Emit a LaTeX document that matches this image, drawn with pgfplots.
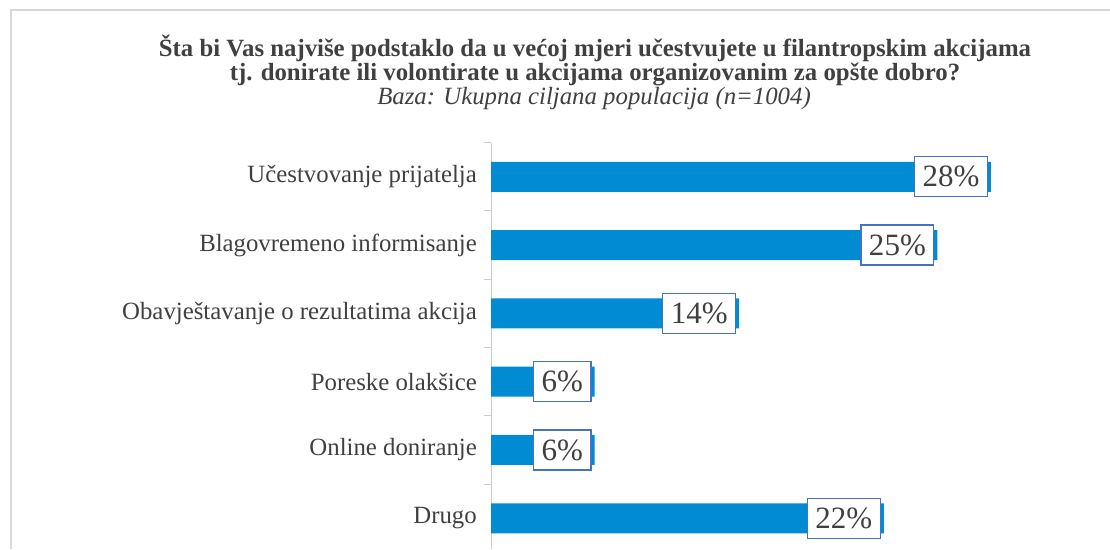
\documentclass[border=0pt]{standalone}
\usepackage{fontspec}
\setmainfont{Liberation Serif}
\usepackage{pgfplots}
\pgfplotsset{compat=1.18}
\definecolor{barblue}{RGB}{0,139,210}
\definecolor{boxblue}{RGB}{68,114,196}
\definecolor{txt}{RGB}{64,64,64}
\begin{document}
\begin{tikzpicture}[x=1pt,y=1pt]
\path[use as bounding box, fill=white] (0,0) rectangle (1110,549);
\draw[black!15, line width=1.5pt] (11,0) -- (11,539) -- (1110,539);
\node[font=\fontsize{24.8}{26}\selectfont\bfseries, text=txt, anchor=base] at (595,492) {Šta bi Vas najviše podstaklo da u većoj mjeri učestvujete u filantropskim akcijama};
\node[font=\fontsize{24.8}{26}\selectfont\bfseries, text=txt, anchor=base] at (595,468) {tj. donirate ili volontirate u akcijama organizovanim za opšte dobro?};
\node[font=\fontsize{24.8}{26}\selectfont\itshape, text=txt, anchor=base] at (594,444) {Baza: Ukupna ciljana populacija (n=1004)};
\begin{axis}[
  at={(491pt,0pt)}, anchor=south west,
  scale only axis, width=535.7pt, height=406.4pt,
  xmin=0, xmax=30, ymin=-0.5, ymax=5.45,
  y dir=reverse,
  xbar, bar width=30pt,
  separate axis lines,
  axis x line=none, axis y line=left,
  y axis line style={-, draw=black!20, line width=1pt},
  ytick={0,1,2,3,4,5},
  yticklabels={Učestvovanje prijatelja, Blagovremeno informisanje, Obavještavanje o rezultatima akcija, Poreske olakšice, Online doniranje, Drugo},
  major tick length=0pt,
  minor ytick={-0.5,0.5,1.5,2.5,3.5,4.5},
  minor tick length=7pt,
  tick align=outside,
  every minor tick/.style={draw=black!20, line width=1pt},
  yticklabel style={font=\fontsize{24.8}{26}\selectfont, text=txt, inner sep=0pt, xshift=-14pt},
  point meta=explicit symbolic,
  nodes near coords,
  every node near coord/.append style={anchor=east, xshift=-3pt, draw=boxblue, line width=1.2pt, fill=white, text=txt, font=\fontsize{31}{31}\selectfont, inner xsep=8pt, minimum height=40pt},
]
\addplot[fill=barblue, draw=none] coordinates {(28,0) [28\%] (25,1) [25\%] (13.9,2) [14\%] (5.8,3) [6\%] (5.8,4) [6\%] (22,5) [22\%]};
\end{axis}
\end{tikzpicture}
\end{document}
